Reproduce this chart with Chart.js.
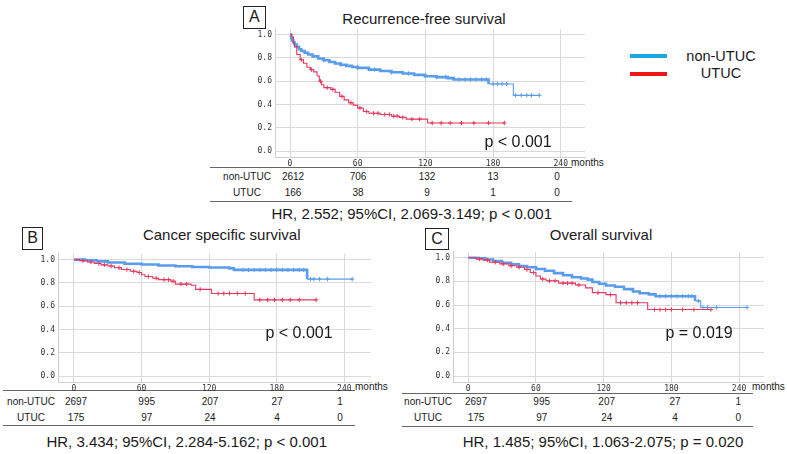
<!DOCTYPE html>
<html><head><meta charset="utf-8">
<script src="https://cdn.jsdelivr.net/npm/chart.js@4.4.1/dist/chart.umd.min.js"></script>
<style>
html,body{margin:0;padding:0;background:#fff;width:787px;height:454px;overflow:hidden;font-family:"Liberation Sans",Arial,sans-serif;color:#1a1a1a;}
.t{position:absolute;white-space:nowrap;transform:translate(-50%,-50%);line-height:1;}
.tl{position:absolute;white-space:nowrap;transform:translate(0,-50%);line-height:1;}
.box{position:absolute;border:1px solid #222;box-sizing:border-box;font-size:16px;display:flex;align-items:center;justify-content:center;}
.rule{position:absolute;height:0;border-top:1px solid #666;}
canvas{position:absolute;}
</style></head><body>
<script>
// ---------- DATA ----------
const timeTicks = [0, 60, 120, 180, 240];
const survTicks = [0, 0.2, 0.4, 0.6, 0.8, 1.0];
const groups = ['non-UTUC', 'UTUC'];

// A: Recurrence-free survival
const rfsNonUtucT = [0,1,2,3,4,6,8,10,13,16,20,25,30,35,40,45,50,55,60,70,80,90,100,110,120,130,140,145,176,198,221];
const rfsNonUtucS = [1,0.97,0.95,0.935,0.915,0.895,0.875,0.86,0.845,0.83,0.813,0.795,0.78,0.765,0.752,0.742,0.732,0.722,0.715,0.70,0.688,0.677,0.667,0.655,0.643,0.635,0.627,0.615,0.577,0.479,0.479];
const rfsNonUtucCens = [30,45,60,75,90,105,120,130,138,150,155,160,165,170,174,180,184,188,192,200,205,210,214,221];
const rfsUtucT = [0,1.5,3,4,6,9,12,15,18,21,24,26,28,30,36,40,44,48,52,56,60,65,70,80,90,97,103,122,190];
const rfsUtucS = [1,0.98,0.925,0.895,0.83,0.785,0.755,0.72,0.7,0.68,0.645,0.6,0.57,0.545,0.53,0.505,0.47,0.44,0.415,0.395,0.37,0.34,0.325,0.315,0.3,0.29,0.275,0.242,0.242];
const rfsUtucCens = [10,19,27,33,38,46,54,62,68,74,78,84,88,92,95,100,108,115,126,134,142,152,163,176,190];
const rfsAtRiskNonUtuc = [2612, 706, 132, 13, 0];
const rfsAtRiskUtuc = [166, 38, 9, 1, 0];

// B: Cancer specific survival
const cssNonUtucT = [0,10,20,30,45,60,75,90,105,120,138,142,207,247];
const cssNonUtucS = [1,0.995,0.985,0.975,0.965,0.958,0.95,0.943,0.937,0.932,0.925,0.912,0.833,0.833];
const cssNonUtucCens = [150,155,160,165,170,175,180,185,190,195,200,204,210,213,218,225,247];
const cssUtucT = [0,5,12,18,24,30,36,42,50,56,60,63,70,75,86,90,104,108,122,160,215];
const cssUtucS = [1,0.99,0.98,0.967,0.955,0.945,0.93,0.915,0.9,0.89,0.87,0.855,0.84,0.828,0.815,0.79,0.78,0.745,0.71,0.655,0.655];
const cssUtucCens = [8,15,22,27,33,40,47,53,58,66,73,80,84,88,95,100,112,128,133,138,145,152,165,172,178,185,192,200,215];
const cssAtRiskNonUtuc = [2697, 995, 207, 27, 1];
const cssAtRiskUtuc = [175, 97, 24, 4, 0];

// C: Overall survival
const osNonUtucT = [0,8,15,22,30,38,45,52,60,68,76,84,92,100,106,110,116,122,130,138,146,152,160,166,201,206,247];
const osNonUtucS = [1,0.995,0.985,0.972,0.958,0.945,0.93,0.92,0.905,0.89,0.87,0.852,0.835,0.825,0.815,0.795,0.78,0.765,0.755,0.735,0.715,0.7,0.69,0.675,0.635,0.58,0.58];
const osNonUtucCens = [170,175,180,185,190,195,198,204,208,212,220,247];
const osUtucT = [0,7,13,19,28,36,43,50,55,60,64,69,80,95,104,110,122,131,159,215];
const osUtucS = [1,0.99,0.98,0.962,0.948,0.932,0.92,0.9,0.875,0.845,0.82,0.805,0.785,0.77,0.745,0.705,0.688,0.62,0.562,0.562];
const osUtucCens = [10,17,24,31,38,45,52,58,66,72,77,84,88,92,98,115,126,135,140,145,150,165,170,175,180,190,200,215];
const osAtRiskNonUtuc = [2697, 995, 207, 27, 1];
const osAtRiskUtuc = [175, 97, 24, 4, 0];

const titles = ['Recurrence-free survival', 'Cancer specific survival', 'Overall survival'];
const pTexts = ['p < 0.001', 'p < 0.001', 'p = 0.019'];
const hrTexts = ['HR, 2.552; 95%CI, 2.069-3.149; p < 0.001', 'HR, 3.434; 95%CI, 2.284-5.162; p < 0.001', 'HR, 1.485; 95%CI, 1.063-2.075; p = 0.020'];

// ---------- STYLE / LAYOUT ----------
const BLUE = '#5a9cec', RED = '#e6375f';
const LEG_BLUE = '#1aa9e4', LEG_RED = '#f01616';

function stepAt(T, S, t){ let v = S[0]; for (let i = 0; i < T.length; i++){ if (T[i] <= t) v = S[i]; else break; } return v; }
function curve(T, S){ return T.map((t, i) => ({x: t, y: S[i]})); }
function cens(T, S, C){ return C.map(t => ({x: t, y: stepAt(T, S, t)})); }

const panels = [
  {letter:'A', box:[243,5.5,22.5,23], title:[424,18], p:[518,141.5], hr:[411.7,213.3],
   plot:{l:275,t:27,r:586,b:157}, xr:[-13.3,261.5], months:[571,163],
   rules:[[210,572,167],[210,572,201]], rows:[177,193], labelX:247, colX:[293,358,427,493,557],
   nu:[rfsNonUtucT,rfsNonUtucS,rfsNonUtucCens], ut:[rfsUtucT,rfsUtucS,rfsUtucCens], risk:[rfsAtRiskNonUtuc,rfsAtRiskUtuc], thick:150},
  {letter:'B', box:[21.7,226.7,21.7,23.3], title:[221.7,234], p:[299,333], hr:[186.7,440.5],
   plot:{l:58,t:252,r:372,b:382}, xr:[-14.2,263.7], months:[355,386.5],
   rules:[[3,355,389.5],[3,355,425]], rows:[401.5,417.5], labelX:31, colX:[76,146.7,210,277,340],
   nu:[cssNonUtucT,cssNonUtucS,cssNonUtucCens], ut:[cssUtucT,cssUtucS,cssUtucCens], risk:[cssAtRiskNonUtuc,cssAtRiskUtuc], thick:150},
  {letter:'C', box:[425,228.3,24.3,21.7], title:[601,234], p:[699,333], hr:[603,440.5],
   plot:{l:453,t:250,r:765,b:382}, xr:[-13.5,262.1], months:[752,386.7],
   rules:[[402,753,393],[402,753,426]], rows:[402.3,418.3], labelX:428, colX:[476,541.7,606.7,675,738.3],
   nu:[osNonUtucT,osNonUtucS,osNonUtucCens], ut:[osUtucT,osUtucS,osUtucCens], risk:[osAtRiskNonUtuc,osAtRiskUtuc], thick:168}
];

function addText(cls, txt, x, y, size, extra){
  const d = document.createElement('div'); d.className = cls; d.textContent = txt;
  d.style.left = x + 'px'; d.style.top = y + 'px'; d.style.fontSize = size + 'px';
  if (extra) Object.assign(d.style, extra);
  document.body.appendChild(d); return d;
}

const PADT = 6, PADR = 4, YW = 24, XH = 14;

panels.forEach((P, k) => {
  // letter box
  const b = document.createElement('div'); b.className = 'box'; b.textContent = P.letter;
  Object.assign(b.style, {left:P.box[0]+'px', top:P.box[1]+'px', width:P.box[2]+'px', height:P.box[3]+'px'});
  document.body.appendChild(b);
  addText('t', titles[k], P.title[0], P.title[1], 15);
  addText('t', hrTexts[k], P.hr[0], P.hr[1], 15);
  addText('tl', 'months', P.months[0], P.months[1], 10);
  P.rules.forEach(r => { const d = document.createElement('div'); d.className = 'rule';
    Object.assign(d.style, {left:r[0]+'px', width:(r[1]-r[0])+'px', top:r[2]+'px'}); document.body.appendChild(d); });
  groups.forEach((g, gi) => {
    addText('t', g, P.labelX, P.rows[gi], 10);
    P.risk[gi].forEach((n, j) => addText('t', String(n), P.colX[j], P.rows[gi], 10));
  });

  // chart canvas
  const pl = P.plot;
  const cw = (pl.r - pl.l) + YW + PADR, ch = (pl.b - pl.t) + PADT + XH;
  const c = document.createElement('canvas');
  c.width = cw; c.height = ch;
  Object.assign(c.style, {left:(pl.l - YW)+'px', top:(pl.t - PADT)+'px', width:cw+'px', height:ch+'px'});
  document.body.appendChild(c);
  const thick = P.thick;
  new Chart(c, {
    type: 'line',
    data: { datasets: [
      {label:'UTUC', data: curve(P.ut[0], P.ut[1]), stepped: true, borderColor: RED, borderWidth: 1.1, pointRadius: 0, fill:false, order:0},
      {label:'UTUC cens', data: cens(P.ut[0], P.ut[1], P.ut[2]), showLine:false, pointStyle:'cross', pointRadius:2.2, borderColor: RED, pointBorderWidth:1, order:0},
      {label:'non-UTUC', data: curve(P.nu[0], P.nu[1]), stepped: true, borderColor: BLUE, borderWidth: 1.1, pointRadius: 0, fill:false, order:1,
        segment: { borderWidth: ctx => ctx.p0.parsed.x < thick ? 2.6 : 1.1 }},
      {label:'non-UTUC cens', data: cens(P.nu[0], P.nu[1], P.nu[2]), showLine:false, pointStyle:'cross', pointRadius:2.2, borderColor: BLUE, pointBorderWidth:1, order:1}
    ]},
    options: {
      responsive:false, animation:false, devicePixelRatio:1,
      layout:{padding:{top:PADT, right:PADR, left:0, bottom:0}},
      plugins:{legend:{display:false}, tooltip:{enabled:false}},
      scales:{
        x:{type:'linear', min:P.xr[0], max:P.xr[1],
          afterBuildTicks: s => { s.ticks = timeTicks.map(v => ({value:v})); },
          afterFit: s => { s.height = XH; },
          grid:{color:'#dadada', lineWidth:1, drawTicks:false},
          border:{display:true, color:'#cfcfcf'},
          ticks:{padding:2, color:'#333', font:{family:'DejaVu Sans Mono', size:8}, maxRotation:0, autoSkip:false, callback: v => String(v)}},
        y:{type:'linear', min:-0.05, max:1.05,
          afterBuildTicks: s => { s.ticks = survTicks.map(v => ({value:v})); },
          afterFit: s => { s.width = YW; },
          grid:{color:'#dadada', lineWidth:1, drawTicks:false},
          border:{display:true, color:'#cfcfcf'},
          ticks:{padding:3, color:'#333', font:{family:'DejaVu Sans Mono', size:8}, callback: v => Number(v).toFixed(1)}}
      }
    }
  });
  addText('t', pTexts[k], P.p[0], P.p[1], 16);
});

// legend
[[groups[0], LEG_BLUE, 56, 55.5], [groups[1], LEG_RED, 73.5, 73]].forEach(([g, col, ly, ty]) => {
  const d = document.createElement('div');
  Object.assign(d.style, {position:'absolute', left:'630px', top:(ly-2)+'px', width:'37px', height:'4px', background:col});
  document.body.appendChild(d);
  addText('t', g, 721, ty, 14.5);
});
</script>
</body></html>
